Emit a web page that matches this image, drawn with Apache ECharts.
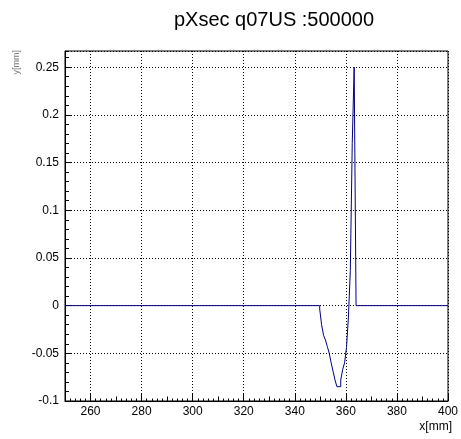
<!DOCTYPE html>
<html>
<head>
<meta charset="utf-8">
<script src="https://cdn.jsdelivr.net/npm/echarts@6/dist/echarts.min.js"></script>
<style>
  html, body { margin: 0; padding: 0; background: #fff; }
  #chart { width: 461px; height: 439px; }
</style>
</head>
<body>
<div id="chart"></div>
<script>
// Texts
const titleText = 'pXsec q07US :500000';
const xTitle = 'x[mm]';
const yTitle = 'y[mm]';

// Axis ranges and labelled ticks
const xRange = [250, 400];
const yRange = [-0.1, 0.267];
const xTicks = [260, 280, 300, 320, 340, 360, 380, 400];
const yTicks = [-0.1, -0.05, 0, 0.05, 0.1, 0.15, 0.2, 0.25];

// Histogram: empty everywhere except a run of bins starting at firstFilledBin
const binWidth = 0.75;
const firstFilledBin = 349.75;
const binValues = [
  -0.0035, -0.020, -0.031, -0.036, -0.043, -0.050, -0.060, -0.069,
  -0.078, -0.085, -0.085, -0.078, -0.067, -0.060, -0.044, -0.012,
  0.037, 0.170, 0.250
];

// Step points: [bin low edge, bin content]
const histPoints = [[xRange[0], 0]];
binValues.forEach(function (v, i) {
  histPoints.push([firstFilledBin + i * binWidth, v]);
});
histPoints.push([firstFilledBin + binValues.length * binWidth, 0]);
histPoints.push([xRange[1], 0]);

const FONT = '"Liberation Sans", Arial, Helvetica, sans-serif';
const dotted = { color: '#000', width: 1, type: [1, 2] };

function inList(list, v) {
  return list.some(function (t) { return Math.abs(t - v) < 1e-9; });
}

const chart = echarts.init(document.getElementById('chart'), null, { renderer: 'canvas' });

chart.setOption({
  animation: false,
  backgroundColor: '#fff',
  grid: {
    left: 65, right: 9, top: 51, bottom: 38,
    show: true, borderColor: '#000', borderWidth: 1, backgroundColor: 'transparent'
  },
  xAxis: [
    {
      type: 'value', position: 'bottom',
      min: xRange[0], max: xRange[1],
      minInterval: 20, maxInterval: 20, splitNumber: 8,
      axisLine: { show: true, onZero: false, lineStyle: { color: '#000', width: 1 } },
      axisTick: { show: true, inside: true, length: 7, lineStyle: { color: '#000' } },
      minorTick: { show: false },
      axisLabel: {
        show: true, color: '#000', fontFamily: FONT, fontSize: 12, margin: 5,
        showMinLabel: false,
        formatter: function (v) { return inList(xTicks, v) ? String(v) : ''; }
      },
      splitLine: { show: true, lineStyle: dotted }
    },
    {
      // finer tick marks along the bottom edge
      type: 'value', position: 'bottom', offset: 0,
      min: xRange[0], max: xRange[1], interval: 10,
      axisLine: { show: false, onZero: false },
      axisTick: { show: true, inside: true, length: 4.5, lineStyle: { color: '#000' } },
      minorTick: { show: true, splitNumber: 5, length: 2.5, lineStyle: { color: '#000' } },
      axisLabel: { show: false },
      splitLine: { show: false }
    }
  ],
  yAxis: [
    {
      type: 'value', position: 'left',
      min: yRange[0], max: yRange[1], interval: 0.05,
      axisLine: { show: true, onZero: false, lineStyle: { color: '#000', width: 1 } },
      axisTick: { show: true, inside: true, length: 7, lineStyle: { color: '#000' } },
      axisLabel: {
        show: true, color: '#000', fontFamily: FONT, fontSize: 12, margin: 6,
        showMaxLabel: false,
        formatter: function (v) { return inList(yTicks, v) ? String(Math.round(v * 1000) / 1000) : ''; }
      },
      splitLine: { show: true, lineStyle: dotted }
    },
    {
      // finer tick marks along the left edge
      type: 'value', position: 'left', offset: 0,
      min: yRange[0], max: yRange[1], interval: 0.01,
      axisLine: { show: false, onZero: false },
      axisTick: { show: true, inside: true, length: 4, lineStyle: { color: '#000' } },
      axisLabel: { show: false },
      splitLine: { show: false }
    }
  ],
  series: [
    {
      type: 'line',
      xAxisIndex: 0, yAxisIndex: 0,
      step: 'end',
      data: histPoints,
      symbol: 'none',
      clip: true,
      lineStyle: { color: '#000080', width: 1 },
      z: 5
    }
  ],
  graphic: [
    {
      type: 'text', x: 274, y: 20,
      style: {
        text: titleText, fill: '#000', font: '20px ' + FONT,
        textAlign: 'center', textVerticalAlign: 'middle'
      }
    },
    {
      type: 'text', x: 452, y: 427,
      style: {
        text: xTitle, fill: '#000', font: '12px ' + FONT,
        textAlign: 'right', textVerticalAlign: 'middle'
      }
    },
    {
      type: 'text', x: 17, y: 50, rotation: Math.PI / 2,
      style: {
        text: yTitle, fill: '#777', font: '9px ' + FONT,
        textAlign: 'right', textVerticalAlign: 'middle'
      }
    }
  ]
});
</script>
</body>
</html>
